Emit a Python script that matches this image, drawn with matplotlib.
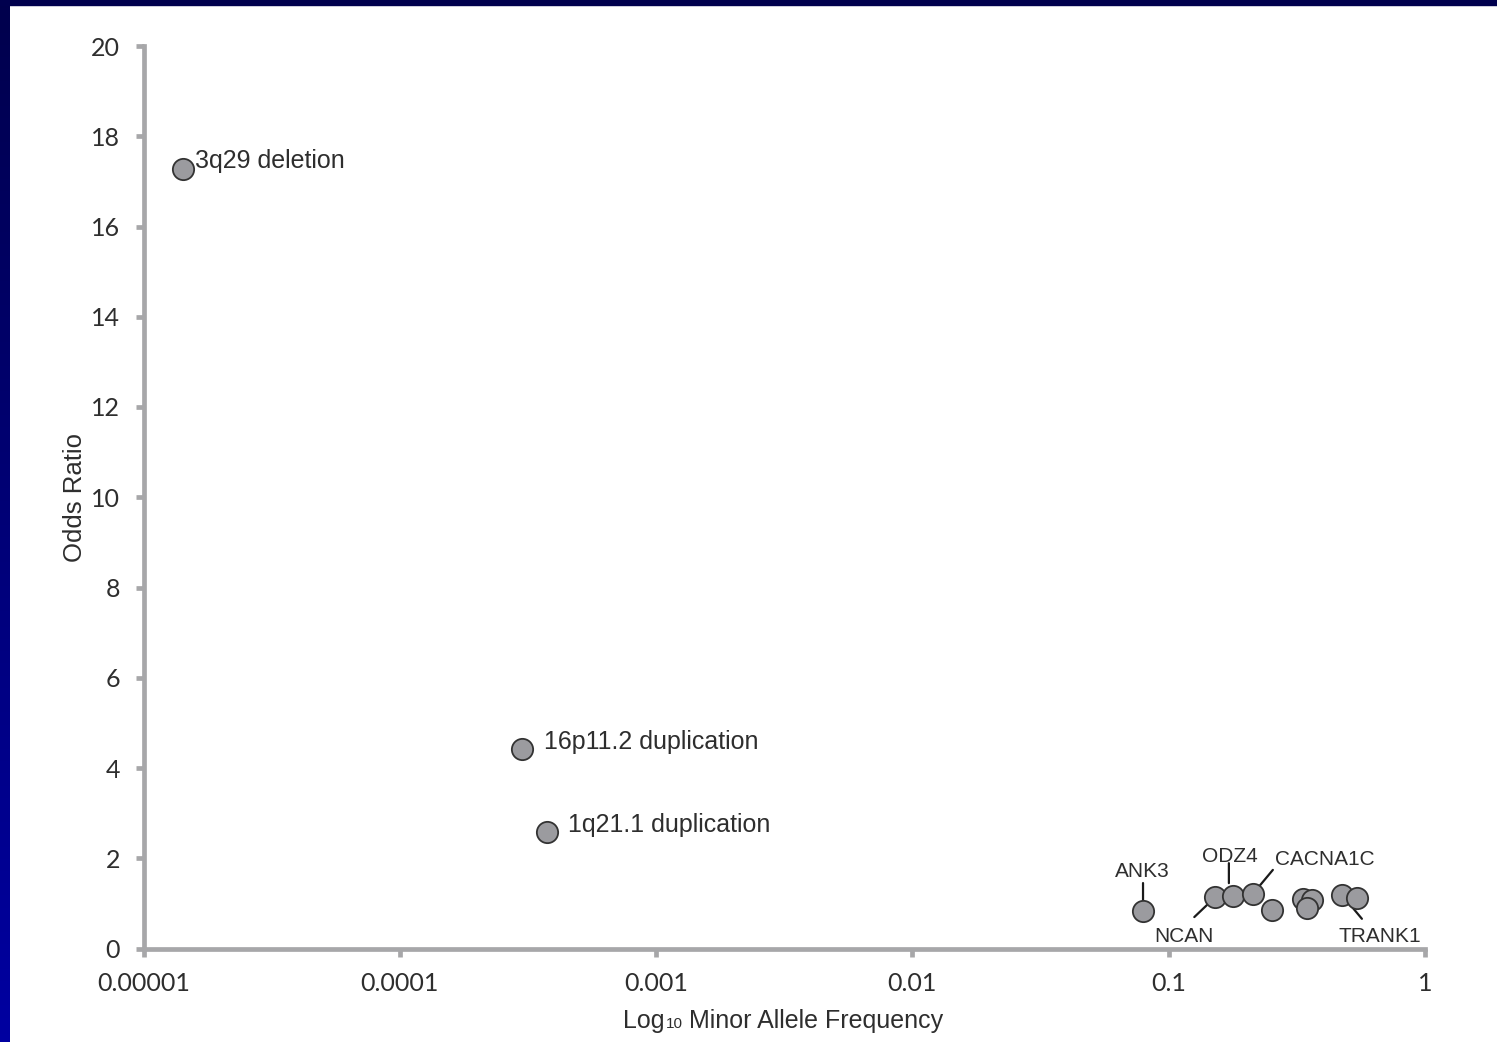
import matplotlib
matplotlib.use("Agg")
import matplotlib.pyplot as plt
import numpy as np
from matplotlib.patches import Rectangle
from matplotlib.transforms import offset_copy
from matplotlib.offsetbox import TextArea, HPacker, AnnotationBbox

# ---- data -------------------------------------------------------------
variants = ["3q29 deletion", "16p11.2 duplication", "1q21.1 duplication",
            "ANK3", "NCAN", "ODZ4", "CACNA1C", "", "", "", "", "TRANK1", ""]
maf = [1.42e-5, 2.99e-4, 3.75e-4,
       0.0794, 0.152, 0.178, 0.213, 0.253, 0.334, 0.362, 0.347, 0.474, 0.543]
odds_ratio = [17.28, 4.42, 2.58,
              0.83, 1.14, 1.16, 1.21, 0.85, 1.10, 1.08, 0.90, 1.19, 1.12]

x_ticks = [1e-5, 1e-4, 1e-3, 1e-2, 1e-1, 1]
x_tick_labels = ["0.00001", "0.0001", "0.001", "0.01", "0.1", "1"]
y_ticks = list(range(0, 21, 2))

# ---- styling ----------------------------------------------------------
PX = 0.72  # points per pixel at 100 dpi
AXIS_GREY = "#a7a7a9"
TEXT_DARK = "#2e2e2e"
FACE = "#9b9b9f"
EDGE = "#333333"
LABEL_FONT = ["Liberation Sans", "DejaVu Sans"]
TICK_FONT = ["Lato", "DejaVu Sans"]

fig = plt.figure(figsize=(14.97, 10.42), dpi=100, facecolor="white")

# slide frame: dark navy top strip and a navy-to-blue strip on the left
edge_ax = fig.add_axes([0, 0, 10 / 1497, 1])
grad = np.linspace(0, 1, 256).reshape(-1, 1)
edge_ax.imshow(np.dstack([np.zeros_like(grad), np.zeros_like(grad),
                          0.30 + 0.33 * grad]),
               aspect="auto", extent=[0, 1, 1, 0])
edge_ax.set_axis_off()
fig.patches.append(Rectangle((0, 1 - 5 / 1042), 1, 5 / 1042,
                             transform=fig.transFigure, color="#00004e",
                             zorder=5))

ax = fig.add_axes([143.5 / 1497, 1 - 948.5 / 1042,
                   (1425 - 143.5) / 1497, (948.5 - 46) / 1042])
ax.set_facecolor("white")
ax.set_xscale("log")
ax.set_xlim(1e-5, 1)
ax.set_ylim(0, 20)

for side in ("top", "right"):
    ax.spines[side].set_visible(False)
for side in ("left", "bottom"):
    ax.spines[side].set_color(AXIS_GREY)
    ax.spines[side].set_linewidth(3.4)
    ax.spines[side].set_capstyle("projecting")

ax.set_xticks(x_ticks)
ax.set_xticklabels(x_tick_labels)
ax.xaxis.set_minor_locator(matplotlib.ticker.NullLocator())
ax.set_yticks(y_ticks)
ax.tick_params(axis="both", which="major", direction="out", length=6,
               width=3.4, color=AXIS_GREY, labelcolor=TEXT_DARK,
               labelsize=18, pad=11)
for lab in ax.get_xticklabels() + ax.get_yticklabels():
    lab.set_family(TICK_FONT)

# y label
ax.set_ylabel("Odds Ratio", fontsize=18.5, family=LABEL_FONT, color=TEXT_DARK)
ax.yaxis.set_label_coords((87 - 143.5) / 1281.5, 0.5)

# x label: "Log" with a small "10" on the baseline
log_part = HPacker(children=[
    TextArea("Log", textprops=dict(size=18, family=LABEL_FONT, color=TEXT_DARK)),
    TextArea("10", textprops=dict(size=11, family=LABEL_FONT, color=TEXT_DARK)),
], align="baseline", pad=0, sep=1)
parts = HPacker(children=[
    log_part,
    TextArea("Minor Allele Frequency",
             textprops=dict(size=18, family=LABEL_FONT, color=TEXT_DARK)),
], align="baseline", pad=0, sep=4)
fig.add_artist(AnnotationBbox(parts, (783 / 1497, 1 - 1033 / 1042),
                              xycoords="figure fraction",
                              box_alignment=(0.5, 0.0), frameon=False))

# points
ax.scatter(maf, odds_ratio, s=235, c=FACE, edgecolors=EDGE, linewidths=1.3,
           zorder=4, clip_on=False)

# large labels for the copy number variants: (dx, dy) in pixels to baseline start
cnv_offsets = {"3q29 deletion": (12, 1),
               "16p11.2 duplication": (22, 0),
               "1q21.1 duplication": (21, 0)}
for name, (dx, dy) in cnv_offsets.items():
    i = variants.index(name)
    ax.annotate(name, (maf[i], odds_ratio[i]), xytext=(dx * PX, dy * PX),
                textcoords="offset points", ha="left", va="baseline",
                fontsize=18, family=LABEL_FONT, color=TEXT_DARK, zorder=6)

# gene labels with leader lines
# text: (dx, dy, ha); line: start (dx, dy) and end (dx, dy), pixels, y up
gene_text = {"ANK3": (-0.5, 34, "center"),
             "NCAN": (-31, -45, "center"),
             "ODZ4": (-3.5, 34, "center"),
             "CACNA1C": (22, 29, "left"),
             "TRANK1": (38, -47, "center")}
gene_line = {"ANK3": ((0, 0), (0, 28)),
             "NCAN": ((0, 0), (-21, -20)),
             "ODZ4": ((-4, 13), (-4, 33)),
             "CACNA1C": ((0, 0), (20, 24)),
             "TRANK1": ((0, 0), (20, -24))}
for name, (dx, dy, ha) in gene_text.items():
    i = variants.index(name)
    ax.annotate(name, (maf[i], odds_ratio[i]), xytext=(dx * PX, dy * PX),
                textcoords="offset points", ha=ha, va="baseline",
                fontsize=15, family=LABEL_FONT, color=TEXT_DARK, zorder=6)
    (sx, sy), (ex, ey) = gene_line[name]
    start_tr = offset_copy(ax.transData, fig=fig, x=sx * PX, y=sy * PX,
                           units="points")
    ax.annotate("", xy=(maf[i], odds_ratio[i]), xycoords=start_tr,
                xytext=((ex - sx) * PX, (ey - sy) * PX),
                textcoords="offset points",
                arrowprops=dict(arrowstyle="-", shrinkA=0, shrinkB=0,
                                lw=1.6, color="#1a1a1a"),
                zorder=3)

fig.savefig("out.png", dpi=100, facecolor="white")
